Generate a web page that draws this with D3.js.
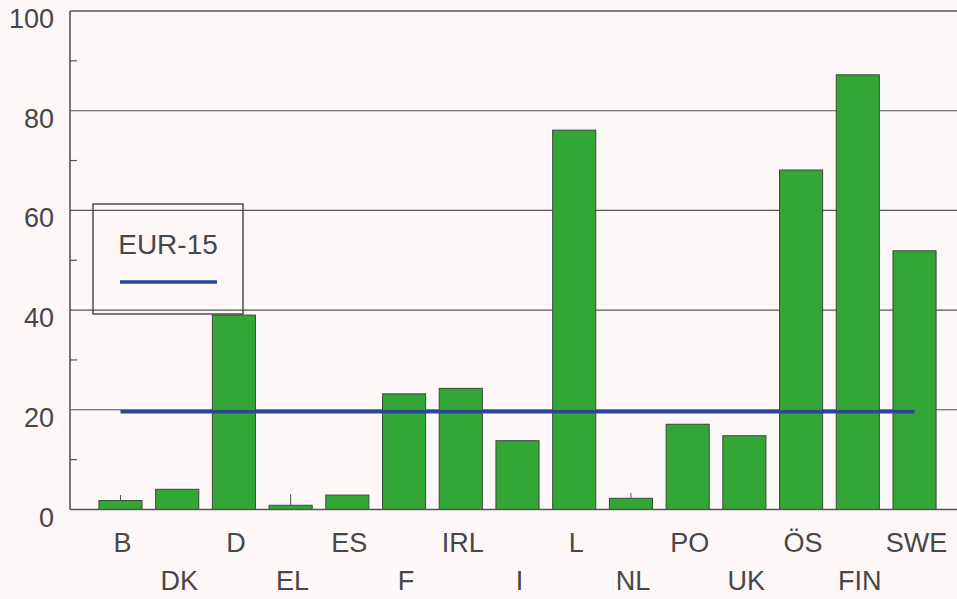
<!DOCTYPE html>
<html>
<head>
<meta charset="utf-8">
<script src="https://cdn.jsdelivr.net/npm/d3@7"></script>
<style>
  html, body { margin: 0; padding: 0; background: #fdf7f8; }
  svg { display: block; }
  text { font-family: "Liberation Sans", Arial, sans-serif; fill: #474747; }
</style>
</head>
<body>
<svg id="chart" width="957" height="599"></svg>
<script>
// ---- data ----
const categories = ["B","DK","D","EL","ES","F","IRL","I","L","NL","PO","UK","ÖS","FIN","SWE"];
const values     = [1.8, 4.05, 39, 0.85, 2.9, 23.2, 24.3, 13.8, 76.1, 2.25, 17.1, 14.8, 68.1, 87.2, 51.9];
const markerTops = [2.9, null, null, 3.1, null, null, null, null, null, 3.3, null, null, null, null, null];
const averageLabel = "EUR-15";
const averageValue = 19.6;
const yTicks = [0, 20, 40, 60, 80, 100];
const yMinorTicks = [10, 30, 50, 70, 90];

// ---- layout ----
const svg = d3.select("#chart");
const x0 = 70, x1 = 965, yTop = 11, yBottom = 509.5;

const x = d3.scaleBand().domain(categories).range([x0, x1])
  .paddingInner(0.24).paddingOuter(0.51);
const y = d3.scaleLinear().domain([0, 100]).range([yBottom, yTop]);

// gridlines
svg.append("g").selectAll("line").data(yTicks.filter(d => d > 0)).join("line")
  .attr("x1", x0).attr("x2", 957)
  .attr("y1", d => y(d)).attr("y2", d => y(d))
  .attr("stroke", "#555").attr("stroke-width", d => d === 100 ? 1.6 : 1.1);

// minor ticks
svg.append("g").selectAll("line").data(yMinorTicks).join("line")
  .attr("x1", x0).attr("x2", x0 + 7)
  .attr("y1", d => y(d)).attr("y2", d => y(d))
  .attr("stroke", "#555").attr("stroke-width", 1.2);

// y axis line
svg.append("line").attr("x1", x0).attr("x2", x0).attr("y1", y(100)).attr("y2", y(0))
  .attr("stroke", "#555").attr("stroke-width", 1.6);

// y tick labels
svg.append("g").selectAll("text").data(yTicks).join("text")
  .attr("x", 54).attr("y", d => y(d) + 17)
  .attr("text-anchor", "end").attr("font-size", 27)
  .text(d => d);

// bars
svg.append("g").selectAll("rect").data(values).join("rect")
  .attr("x", (d, i) => x(categories[i]))
  .attr("width", x.bandwidth())
  .attr("y", d => y(d))
  .attr("height", d => y(0) - y(d))
  .attr("fill", "#33a635")
  .attr("stroke", "#3a4a3a").attr("stroke-width", 1);

// small marker ticks
svg.append("g").selectAll("line").data(markerTops.map((m, i) => ({m, i})).filter(d => d.m !== null)).join("line")
  .attr("x1", d => x(categories[d.i]) + x.bandwidth() / 2)
  .attr("x2", d => x(categories[d.i]) + x.bandwidth() / 2)
  .attr("y1", d => y(d.m)).attr("y2", d => y(values[d.i]))
  .attr("stroke", "#555").attr("stroke-width", 1);

// zero baseline
svg.append("line").attr("x1", x0).attr("x2", 957).attr("y1", y(0)).attr("y2", y(0))
  .attr("stroke", "#555").attr("stroke-width", 1.6);

// average line
const first = categories[0], last = categories[categories.length - 1];
svg.append("line")
  .attr("x1", x(first) + x.bandwidth() / 2)
  .attr("x2", x(last) + x.bandwidth() / 2)
  .attr("y1", y(averageValue)).attr("y2", y(averageValue))
  .attr("stroke", "#2a4792").attr("stroke-width", 3.4);

// x labels (staggered)
svg.append("g").selectAll("text").data(categories).join("text")
  .attr("x", d => x(d) + x.bandwidth() / 2 + 2)
  .attr("y", (d, i) => i % 2 === 0 ? 552 : 590)
  .attr("text-anchor", "middle").attr("font-size", 27)
  .text(d => d);

// legend
const lg = svg.append("g");
lg.append("rect").attr("x", 93).attr("y", 204).attr("width", 150).attr("height", 110)
  .attr("fill", "none").attr("stroke", "#333").attr("stroke-width", 1.3);
lg.append("text").attr("x", 168).attr("y", 254).attr("text-anchor", "middle")
  .attr("font-size", 28).text(averageLabel);
lg.append("line").attr("x1", 120).attr("x2", 217).attr("y1", 282).attr("y2", 282)
  .attr("stroke", "#2a4792").attr("stroke-width", 3.4);
</script>
</body>
</html>
